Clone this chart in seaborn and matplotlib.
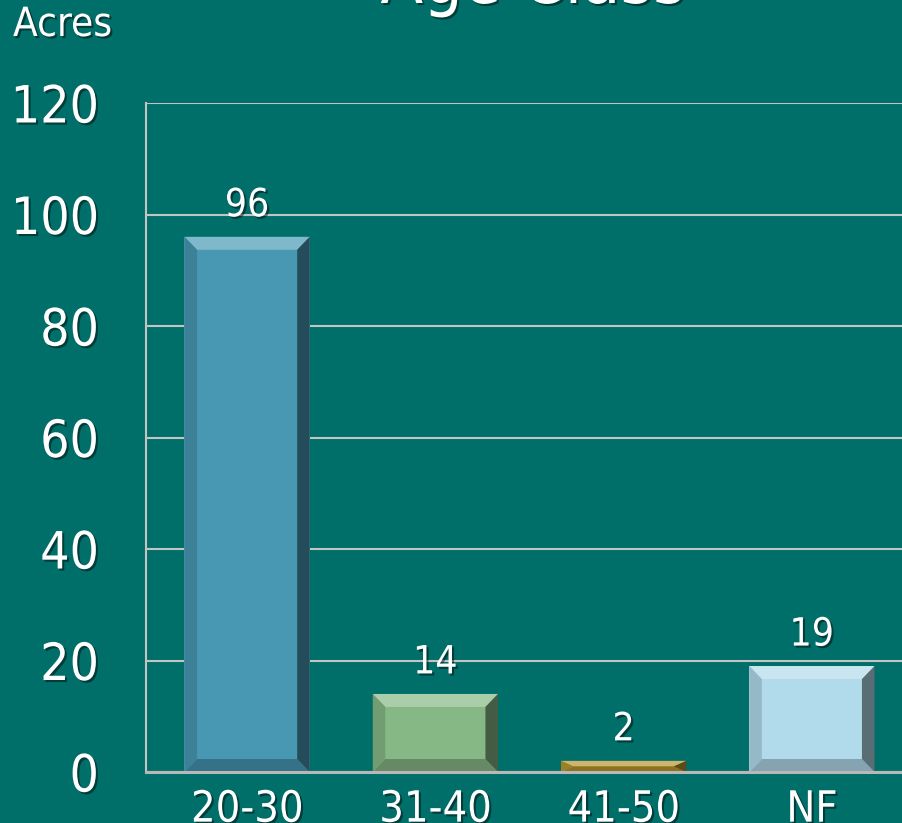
import matplotlib
matplotlib.use("Agg")
import matplotlib.pyplot as plt
import matplotlib.patheffects as pe
from matplotlib.patches import Polygon
from matplotlib.colors import to_rgb
import numpy as np
import pandas as pd
import seaborn as sns

# ---- data ----
categories = ["20-30", "31-40", "41-50", "NF"]
acres = [96, 14, 2, 19]
bar_colors = ["#4898B4", "#86B886", "#B8962E", "#B1DAEA"]
y_ticks = [0, 20, 40, 60, 80, 100, 120]
title_text = "Age Class"
y_label_text = "Acres"

BG = "#006E69"
GRID = "#C4C4C4"

sns.set_theme(style="white")
plt.rcParams["font.family"] = ["DejaVu Sans"]
plt.rcParams["font.stretch"] = "condensed"

fig = plt.figure(figsize=(9.03, 8.23), dpi=100, facecolor=BG)
ax = fig.add_axes([146 / 903, 1 - 772 / 823, 1 - 146 / 903, (772 - 103) / 823])
ax.set_facecolor(BG)

df = pd.DataFrame({"cat": categories, "acres": acres})
sns.barplot(data=df, x="cat", y="acres", hue="cat", palette=bar_colors,
            legend=False, width=0.665, saturation=1, ax=ax, zorder=3,
            linewidth=0)

ax.set_ylim(0, 120)
ax.set_xlim(-0.537, 3.484)
ax.set_yticks(y_ticks)
ax.set_xlabel("")
ax.set_ylabel("")

shadow = [pe.withSimplePatchShadow(offset=(1.5, -1.5), shadow_rgbFace="black", alpha=0.45)]

ax.tick_params(axis="y", length=0, pad=34, labelsize=37, labelcolor="white")
ax.tick_params(axis="x", length=0, pad=12, labelsize=31, labelcolor="white")
for lab in ax.get_yticklabels() + ax.get_xticklabels():
    lab.set_path_effects(shadow)

ax.yaxis.grid(True, color=GRID, linewidth=1.5, zorder=0)
ax.set_axisbelow(True)
for s in ["top", "right"]:
    ax.spines[s].set_visible(False)
ax.spines["left"].set_color(GRID)
ax.spines["left"].set_linewidth(1.5)
ax.spines["bottom"].set_color("#B8B8B8")
ax.spines["bottom"].set_linewidth(2.2)
ax.spines["bottom"].set_zorder(6)

# bevel effect derived from seaborn's bar geometry
px_per_unit = ax.transData.transform((0, 1))[1] - ax.transData.transform((0, 0))[1]


def mix(c, other, t):
    c = np.array(to_rgb(c)); o = np.array(to_rgb(other))
    return tuple(c * (1 - t) + o * t)


for patch in list(ax.patches):
    x0, y0 = patch.get_x(), patch.get_y()
    w, h = patch.get_width(), patch.get_height()
    x1, y1 = x0 + w, y0 + h
    fc = patch.get_facecolor()[:3]
    bx = 0.1 * w
    by = min(13 / px_per_unit, h / 2)
    polys = [
        ([(x0, y1), (x1, y1), (x1 - bx, y1 - by), (x0 + bx, y1 - by)], mix(fc, "white", 0.3)),
        ([(x0, y0), (x1, y0), (x1 - bx, y0 + by), (x0 + bx, y0 + by)], mix(fc, "black", 0.25)),
        ([(x0, y0), (x0, y1), (x0 + bx, y1 - by), (x0 + bx, y0 + by)], mix(fc, "black", 0.15)),
        ([(x1, y1), (x1, y0), (x1 - bx, y0 + by), (x1 - bx, y1 - by)], mix(fc, "black", 0.5)),
    ]
    for pts, col in polys:
        ax.add_patch(Polygon(pts, closed=True, facecolor=col, edgecolor="none", zorder=4))

for cont in ax.containers:
    labels = ax.bar_label(cont, padding=9, fontsize=28, color="white", zorder=7)
    for t in labels:
        t.set_path_effects(shadow)

fig.text(13 / 903, 1 - 5 / 823, y_label_text, ha="left", va="top", fontsize=29,
         color="white", path_effects=shadow)
fig.text(533 / 903, 1 - 3 / 823, title_text, ha="center", va="baseline", fontsize=50,
         color="white", path_effects=shadow)

fig.savefig("out.png", dpi=100, facecolor=BG)
